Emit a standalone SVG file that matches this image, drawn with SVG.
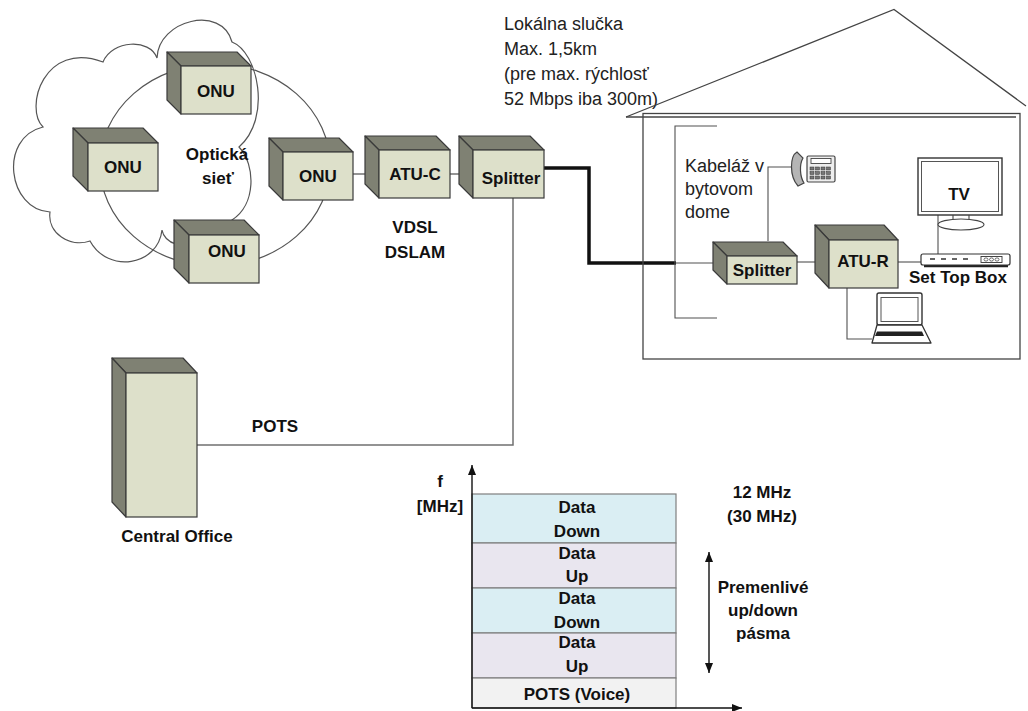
<svg xmlns="http://www.w3.org/2000/svg" width="1028" height="711" viewBox="0 0 1028 711">
  <defs>
    <style>
      .lbl { font-family: "Liberation Sans", Arial, sans-serif; font-weight: bold; font-size: 17px; fill: #111; text-anchor: middle; }
      .note { font-family: "Liberation Sans", Arial, sans-serif; font-size: 18px; fill: #222; }
      .front { fill: #dde0ca; stroke: #3a3a3a; stroke-width: 1.2; }
      .side { fill: #7f8173; stroke: #3a3a3a; stroke-width: 1.2; stroke-linejoin: round; }
      .wire { fill: none; stroke: #707070; stroke-width: 1.5; }
      .thin { fill: none; stroke: #505050; stroke-width: 1.1; }
      .outline { fill: none; stroke: #555; stroke-width: 1.2; }
      .band { stroke: #7f7f7f; stroke-width: 1.2; }
      .axis { stroke: #111; stroke-width: 1.4; fill: none; }
    </style>
    <marker id="arrow" viewBox="0 0 10 10" refX="10" refY="5" markerWidth="10" markerHeight="10" markerUnits="userSpaceOnUse" orient="auto-start-reverse">
      <path d="M0,1 L10,5 L0,9 Z" fill="#111"/>
    </marker>
  </defs>

  <rect width="1028" height="711" fill="#ffffff"/>

  <!-- optical network cloud with ring -->
  <g id="optical-network">
    <path class="outline" fill="#fff" d="M157,58 C158,20 222,4 232,42 C258,52 272,118 239,147 C256,165 256,205 232,220 L176,244 C168,242 163,236 162,230 C158,266 108,274 90,241 C70,248 47,233 50,212 C8,210 -2,138 43,127 C24,108 44,40 103,62 C112,40 150,38 157,58 Z"/>
    <ellipse class="outline" cx="215" cy="165" rx="115" ry="101"/>
    <text class="lbl" x="217" y="160" fill="#1c2340">Optická</text>
    <text class="lbl" x="218" y="184" fill="#1c2340">sieť</text>
  </g>

  <!-- connectors -->
  <g id="connectors">
    <line class="wire" x1="343" y1="174" x2="372" y2="174"/>
    <line class="wire" x1="442" y1="174" x2="471" y2="174"/>
    <polyline class="wire" points="513,198 513,445 197,445" stroke="#808080" stroke-width="2"/>
    <polyline fill="none" stroke="#111" stroke-width="3.5" points="544,168 589,168 589,263 676,263"/>
    <line class="thin" x1="676" y1="263" x2="714" y2="263"/>
    <polyline class="thin" points="768,241 768,167 794,167"/>
    <line class="thin" x1="797" y1="262" x2="816" y2="262"/>
    <line class="thin" x1="898" y1="262" x2="921" y2="262"/>
    <polyline class="thin" points="847,288 847,339 872,339"/>
    <line class="thin" x1="938" y1="215" x2="938" y2="254"/>
  </g>

  <!-- ONU boxes -->
  <g id="onu-top">
    <polygon class="side" points="167,52 237,52 251,66 181,66"/>
    <polygon class="side" points="167,52 181,66 181,114 167,100"/>
    <rect class="front" x="181" y="66" width="70" height="48"/>
    <text class="lbl" x="216" y="97">ONU</text>
  </g>
  <g id="onu-left">
    <polygon class="side" points="73,128 143,128 158,143 88,143"/>
    <polygon class="side" points="73,128 88,143 88,191 73,176"/>
    <rect class="front" x="88" y="143" width="70" height="48"/>
    <text class="lbl" x="123" y="173">ONU</text>
  </g>
  <g id="onu-bottom">
    <polygon class="side" points="174,220 244,220 259,235 189,235"/>
    <polygon class="side" points="174,220 189,235 189,283 174,268"/>
    <rect class="front" x="189" y="235" width="70" height="48"/>
    <text class="lbl" x="227" y="257">ONU</text>
  </g>
  <g id="onu-link">
    <polygon class="side" points="269,138 339,138 353,152 283,152"/>
    <polygon class="side" points="269,138 283,152 283,200 269,186"/>
    <rect class="front" x="283" y="152" width="70" height="48"/>
    <text class="lbl" x="318" y="182">ONU</text>
  </g>

  <!-- DSLAM -->
  <g id="atu-c">
    <polygon class="side" points="365,136 436,136 450,150 379,150"/>
    <polygon class="side" points="365,136 379,150 379,198 365,184"/>
    <rect class="front" x="379" y="150" width="71" height="48"/>
    <text class="lbl" x="415" y="180">ATU-C</text>
  </g>
  <g id="splitter-co">
    <polygon class="side" points="459,136 530,136 544,150 473,150"/>
    <polygon class="side" points="459,136 473,150 473,198 459,184"/>
    <rect class="front" x="473" y="150" width="71" height="48"/>
    <text class="lbl" x="511" y="184">Splitter</text>
  </g>
  <g id="dslam-label">
    <text class="lbl" x="415" y="233">VDSL</text>
    <text class="lbl" x="415" y="258">DSLAM</text>
  </g>

  <!-- central office -->
  <g id="central-office">
    <polygon class="side" points="112,358 183,358 197,373 126,373"/>
    <polygon class="side" points="112,358 126,373 126,517 112,502"/>
    <rect class="front" x="126" y="373" width="71" height="144"/>
    <text class="lbl" x="177" y="542">Central Office</text>
  </g>
  <text class="lbl" x="275" y="432">POTS</text>

  <!-- local loop note -->
  <g id="loop-note">
    <text class="note" x="504" y="30">Lokálna slučka</text>
    <text class="note" x="504" y="55">Max. 1,5km</text>
    <text class="note" x="504" y="80">(pre max. rýchlosť</text>
    <text class="note" x="504" y="105">52 Mbps iba 300m)</text>
  </g>

  <!-- subscriber house -->
  <g id="house">
    <rect x="643" y="113.5" width="377" height="245.5" fill="none" stroke="#444" stroke-width="1.3"/>
    <polyline fill="none" stroke="#444" stroke-width="1.3" points="626,117 894,9.5 1026,106"/>
    <line x1="626" y1="117" x2="1016" y2="117" stroke="#444" stroke-width="1.3"/>
    <polyline class="thin" points="717,126 675,126 675,318 717,318"/>
    <text class="note" x="685" y="172" font-size="17.5">Kabeláž v</text>
    <text class="note" x="685" y="195" font-size="17.5">bytovom</text>
    <text class="note" x="685" y="218" font-size="17.5">dome</text>
  </g>

  <g id="phone">
    <path d="M797,152 C790,156 789,176 798,186 L804,183 C800,177 799,165 803,158 Z" fill="#b5b5b5" stroke="#444" stroke-width="1.2"/>
    <rect x="807" y="156" width="28" height="26" rx="1.5" fill="#eee" stroke="#444" stroke-width="1.2"/>
    <rect x="811" y="158.5" width="20" height="5" fill="#fff" stroke="#444" stroke-width="0.9"/>
    <g fill="#777" stroke="#333" stroke-width="0.5">
      <rect x="810" y="167" width="4" height="3"/><rect x="815.5" y="167" width="4" height="3"/><rect x="821" y="167" width="4" height="3"/><rect x="826.5" y="167" width="4" height="3"/>
      <rect x="810" y="171.5" width="4" height="3"/><rect x="815.5" y="171.5" width="4" height="3"/><rect x="821" y="171.5" width="4" height="3"/><rect x="826.5" y="171.5" width="4" height="3"/>
      <rect x="810" y="176" width="4" height="3"/><rect x="815.5" y="176" width="4" height="3"/><rect x="821" y="176" width="4" height="3"/><rect x="826.5" y="176" width="4" height="3"/>
    </g>
  </g>

  <g id="splitter-home">
    <polygon class="side" points="713,242 783,242 797,256 727,256"/>
    <polygon class="side" points="713,242 727,256 727,284 713,270"/>
    <rect class="front" x="727" y="256" width="70" height="28"/>
    <text class="lbl" x="762" y="276">Splitter</text>
  </g>

  <g id="atu-r">
    <polygon class="side" points="815,225 884,225 898,240 829,240"/>
    <polygon class="side" points="815,225 829,240 829,288 815,273"/>
    <rect class="front" x="829" y="240" width="69" height="48"/>
    <text class="lbl" x="863" y="267">ATU-R</text>
  </g>

  <g id="tv">
    <rect x="918" y="158" width="84" height="57" fill="#fff" stroke="#333" stroke-width="1.4"/>
    <rect x="921.5" y="161.5" width="77" height="50" fill="none" stroke="#555" stroke-width="1"/>
    <line x1="953" y1="215" x2="953" y2="221" stroke="#444" stroke-width="1.1"/>
    <line x1="969" y1="215" x2="969" y2="221" stroke="#444" stroke-width="1.1"/>
    <ellipse cx="961" cy="224.5" rx="23" ry="5.5" fill="#fff" stroke="#444" stroke-width="1.1"/>
    <text class="lbl" x="959" y="200" font-size="18">TV</text>
  </g>

  <g id="set-top-box">
    <line x1="924" y1="266" x2="1008" y2="266" stroke="#222" stroke-width="2.5"/>
    <rect x="921" y="254" width="89" height="11" rx="2" fill="#fff" stroke="#333" stroke-width="1.2"/>
    <line x1="930" y1="259" x2="972" y2="259" stroke="#333" stroke-width="1.3" stroke-dasharray="5,6"/>
    <rect x="981" y="256.5" width="21" height="6" fill="#fff" stroke="#333" stroke-width="0.9"/>
    <ellipse cx="986" cy="259.5" rx="2" ry="1.6" fill="none" stroke="#333" stroke-width="0.7"/>
    <ellipse cx="991.5" cy="259.5" rx="2" ry="1.6" fill="none" stroke="#333" stroke-width="0.7"/>
    <ellipse cx="997" cy="259.5" rx="2" ry="1.6" fill="none" stroke="#333" stroke-width="0.7"/>
    <text class="lbl" x="958" y="283">Set Top Box</text>
  </g>

  <g id="laptop">
    <rect x="877" y="293" width="45" height="32" rx="2" fill="#fff" stroke="#333" stroke-width="1.4"/>
    <rect x="881" y="297.5" width="37" height="24" fill="none" stroke="#555" stroke-width="1"/>
    <path d="M877,325 L872,343 L931,343 L922,325 Z" fill="#fff" stroke="#333" stroke-width="1.3" stroke-linejoin="round"/>
    <polygon points="877,331.5 922,331.5 924,336 875,336" fill="#222"/>
  </g>

  <!-- frequency plan -->
  <g id="spectrum">
    <rect class="band" x="472" y="494" width="204" height="49" fill="#daeef3"/>
    <rect class="band" x="472" y="543" width="204" height="45" fill="#e9e6ef"/>
    <rect class="band" x="472" y="588" width="204" height="45" fill="#daeef3"/>
    <rect class="band" x="472" y="633" width="204" height="45" fill="#e9e6ef"/>
    <rect class="band" x="472" y="678" width="204" height="30" fill="#f2f2f2"/>
    <text class="lbl" x="577" y="513">Data</text>
    <text class="lbl" x="577" y="537">Down</text>
    <text class="lbl" x="577" y="559">Data</text>
    <text class="lbl" x="577" y="582">Up</text>
    <text class="lbl" x="577" y="604">Data</text>
    <text class="lbl" x="577" y="628">Down</text>
    <text class="lbl" x="577" y="648">Data</text>
    <text class="lbl" x="577" y="672">Up</text>
    <text class="lbl" x="577" y="700">POTS (Voice)</text>
    <line class="axis" x1="472" y1="708" x2="472" y2="465" marker-end="url(#arrow)"/>
    <line class="axis" x1="472" y1="708" x2="742" y2="708" marker-end="url(#arrow)"/>
    <line class="axis" x1="709" y1="552" x2="709" y2="673" stroke="#333" marker-start="url(#arrow)" marker-end="url(#arrow)"/>
    <text class="lbl" x="440" y="487">f</text>
    <text class="lbl" x="440" y="512">[MHz]</text>
    <text class="lbl" x="762" y="498">12 MHz</text>
    <text class="lbl" x="762" y="522">(30 MHz)</text>
    <text class="lbl" x="763" y="593">Premenlivé</text>
    <text class="lbl" x="763" y="616">up/down</text>
    <text class="lbl" x="763" y="639">pásma</text>
  </g>
</svg>
